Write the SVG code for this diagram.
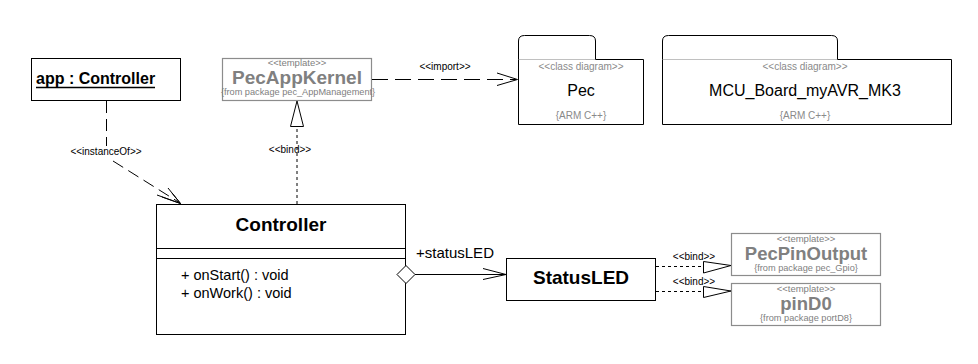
<svg xmlns="http://www.w3.org/2000/svg" width="978" height="364" viewBox="0 0 978 364">
<style>
text{font-family:"Liberation Sans",Arial,sans-serif;fill:#000}
.box{fill:#fff;stroke:#000;stroke-width:1}
.tbox{fill:#fff;stroke:#8c8c8c;stroke-width:1.2}
.tst{font-size:9.5px;fill:#808080;text-anchor:middle}
.tname{font-size:19px;font-weight:bold;fill:#808080;text-anchor:middle}
.tfrom{font-size:9.2px;fill:#808080;text-anchor:middle}
.pst{font-size:10px;fill:#8a8a8a;text-anchor:middle}
.pname{font-size:16px;text-anchor:middle}
.lbl{font-size:10px;text-anchor:middle}
.ln{fill:none;stroke:#000;stroke-width:1}
.dash{fill:none;stroke:#000;stroke-width:1;stroke-dasharray:12 6}
.dot{fill:none;stroke:#000;stroke-width:1;stroke-dasharray:3 3}
.hollow{fill:#fff;stroke:#000;stroke-width:1}
</style>

<g id="app">
<rect class="box" x="31.5" y="58.5" width="149" height="42"/>
<text x="36" y="84" font-size="16" font-weight="bold">app : Controller</text>
<line x1="36" y1="87.5" x2="155" y2="87.5" stroke="#000" stroke-width="1.5"/>
</g>

<g id="PecAppKernel">
<rect class="tbox" x="222.5" y="58.5" width="149" height="42"/>
<text class="tst" x="297" y="66">&lt;&lt;template&gt;&gt;</text>
<text class="tname" x="297" y="84">PecAppKernel</text>
<text class="tfrom" x="298" y="95">{from package pec_AppManagement}</text>
</g>

<g id="Pec">
<path class="ln" d="M518.5,59.5 L518.5,41 Q518.5,35.5 524.5,35.5 L589.5,35.5 Q595.5,35.5 595.5,41 L595.5,59.5"/>
<path class="ln" d="M595.5,59.5 L643.5,59.5 L643.5,124.5 L518.5,124.5 L518.5,59.5"/>
<line x1="519" y1="59.5" x2="595" y2="59.5" stroke="#c0c0c0" stroke-width="1"/>
<text class="pst" x="581" y="70">&lt;&lt;class diagram&gt;&gt;</text>
<text class="pname" x="581" y="96">Pec</text>
<text class="pst" x="581" y="119">{ARM C++}</text>
</g>

<g id="MCU_Board_myAVR_MK3">
<path class="ln" d="M662.5,59.5 L662.5,41 Q662.5,35.5 668.5,35.5 L831.5,35.5 Q837.5,35.5 837.5,41 L837.5,59.5"/>
<path class="ln" d="M837.5,59.5 L951.5,59.5 L951.5,124.5 L662.5,124.5 L662.5,59.5"/>
<line x1="663" y1="59.5" x2="837" y2="59.5" stroke="#c0c0c0" stroke-width="1"/>
<text class="pst" x="805" y="70">&lt;&lt;class diagram&gt;&gt;</text>
<text class="pname" x="805" y="96">MCU_Board_myAVR_MK3</text>
<text class="pst" x="805" y="119">{ARM C++}</text>
</g>

<g id="Controller">
<rect class="box" x="156.5" y="204.5" width="249" height="130"/>
<line class="ln" x1="156.5" y1="248.5" x2="405.5" y2="248.5"/>
<line class="ln" x1="156.5" y1="258.5" x2="405.5" y2="258.5"/>
<text x="281" y="231" font-size="19" font-weight="bold" text-anchor="middle">Controller</text>
<text x="181" y="280" font-size="14.5">+ onStart() : void</text>
<text x="181" y="298" font-size="14.5">+ onWork() : void</text>
</g>

<g id="StatusLED">
<rect class="box" x="506.5" y="258.5" width="149" height="42"/>
<text x="581" y="284" font-size="19" font-weight="bold" text-anchor="middle">StatusLED</text>
</g>

<g id="PecPinOutput">
<rect class="tbox" x="731.5" y="233.5" width="149" height="42"/>
<text class="tst" x="806" y="241.5">&lt;&lt;template&gt;&gt;</text>
<text class="tname" x="806" y="259.5" style="font-size:18.5px">PecPinOutput</text>
<text class="tfrom" x="806" y="270.5">{from package pec_Gpio}</text>
</g>

<g id="pinD0">
<rect class="tbox" x="731.5" y="283.5" width="149" height="42"/>
<text class="tst" x="806" y="291.5">&lt;&lt;template&gt;&gt;</text>
<text class="tname" x="806" y="309.5" style="font-size:18.5px">pinD0</text>
<text class="tfrom" x="806" y="320.5">{from package portD8}</text>
</g>

<g id="connectors">
<path class="dash" d="M106.5,101 L106.5,146"/>
<path class="dash" d="M113,161 L180,203"/>
<path class="ln" d="M168,188 L180.5,203.5 L157,195"/>
<path class="ln" d="M172,193 L180.5,203.5 L162,197"/>
<text class="lbl" x="106" y="155">&lt;&lt;instanceOf&gt;&gt;</text>
<path class="dot" d="M297,204 L297,126"/>
<polygon class="hollow" points="297,101 290.5,126.5 303.5,126.5"/>
<text class="lbl" x="290" y="153">&lt;&lt;bind&gt;&gt;</text>
<path class="dash" d="M372,79.5 L516,79.5" style="stroke-dasharray:16 7"/>
<path class="ln" d="M497,73 L517.5,79.5 L497,85.5"/>
<text class="lbl" x="445" y="70">&lt;&lt;import&gt;&gt;</text>
<line class="ln" x1="415" y1="274.5" x2="506" y2="274.5"/>
<polygon class="hollow" points="397,274.5 406,265.5 415,274.5 406,283.5"/>
<path class="ln" d="M483,268.5 L506,274.5 L483,279.5"/>
<text x="416" y="258" font-size="15">+statusLED</text>
<path class="dot" d="M656,266.5 L703,266.5"/>
<polygon class="hollow" points="703.5,261.5 731,265.5 703.5,273"/>
<text class="lbl" x="694" y="259.5">&lt;&lt;bind&gt;&gt;</text>
<path class="dot" d="M656,291.5 L703,291.5"/>
<polygon class="hollow" points="703.5,286.5 731,291 703.5,297.5"/>
<text class="lbl" x="694" y="285">&lt;&lt;bind&gt;&gt;</text>
</g>
</svg>
